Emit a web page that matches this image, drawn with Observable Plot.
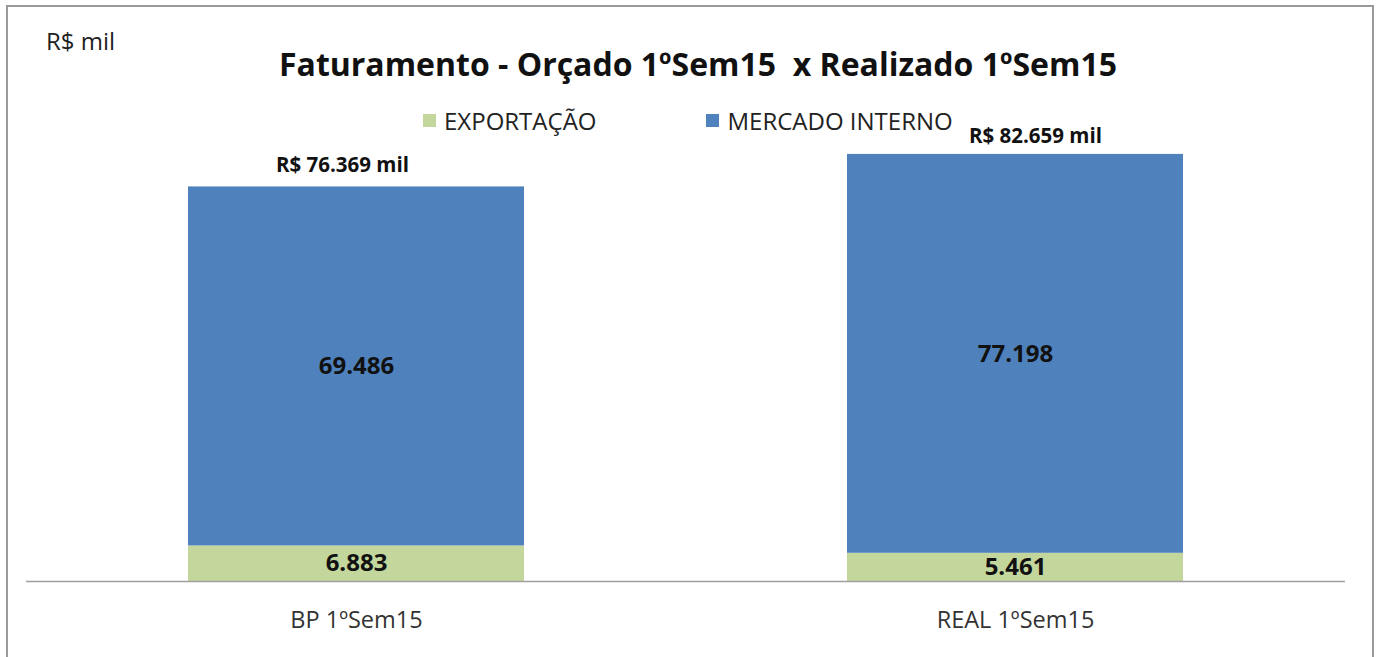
<!DOCTYPE html>
<html>
<head>
<meta charset="utf-8">
<script src="https://cdn.jsdelivr.net/npm/d3@7"></script>
<script src="https://cdn.jsdelivr.net/npm/@observablehq/plot@0.6"></script>
<style>
  html, body { margin: 0; padding: 0; background: #fff; }
  body { width: 1380px; height: 657px; overflow: hidden; position: relative; font-family: "Open Sans", sans-serif; }
  #frame { position: absolute; left: 6px; top: 5px; width: 1368px; height: 700px; border: 2px solid #9a9a9a; border-bottom: none; box-sizing: border-box; }
  #chart { position: absolute; left: 0; top: 0; }
  #unit { position: absolute; left: 46px; top: 24px; font-size: 24px; color: #222; }
  #title { position: absolute; left: 0; width: 1396px; top: 42px; text-align: center; font-size: 32px; font-weight: bold; color: #111; white-space: pre; }
  #legend { position: absolute; top: 104px; left: 423px; font-size: 24px; color: #222; display: flex; align-items: center; }
  #legend .item { display: flex; align-items: center; }
  #legend .sw { width: 13px; height: 13px; display: inline-block; margin-right: 8px; }
</style>
</head>
<body>
<div id="frame"></div>
<div id="chart"></div>
<div id="unit">R$ mil</div>
<div id="title">Faturamento - Orçado 1ºSem15  x Realizado 1ºSem15</div>
<div id="legend"></div>
<script>
const categories = ["BP 1ºSem15", "REAL 1ºSem15"];
const seriesNames = ["EXPORTAÇÃO", "MERCADO INTERNO"];
const exportacao = [6883, 5461];
const mercadoInterno = [69486, 77198];
const seriesColors = ["#C3D69B", "#4F81BD"];

const br = d3.formatLocale({decimal: ",", thousands: ".", grouping: [3], currency: ["R$", ""]});
const fmt = br.format(",d");

const rows = [];
categories.forEach((c, i) => {
  rows.push({cat: c, series: seriesNames[0], value: exportacao[i]});
  rows.push({cat: c, series: seriesNames[1], value: mercadoInterno[i]});
});
const totals = categories.map((c, i) => ({cat: c, total: exportacao[i] + mercadoInterno[i]}));
const totalText = d => `R$ ${fmt(d.total)} mil`;

const chart = Plot.plot({
  width: 1380,
  height: 657,
  marginLeft: 26,
  marginRight: 35,
  marginTop: 116,
  marginBottom: 76,
  style: {fontFamily: "'Open Sans', sans-serif", background: "transparent", overflow: "visible"},
  x: {domain: categories, paddingInner: 0.49, paddingOuter: 0.245, label: null},
  y: {domain: [0, 90000], axis: null},
  color: {domain: seriesNames, range: seriesColors},
  marks: [
    Plot.barY(rows, Plot.stackY({x: "cat", y: "value", fill: "series", z: "series", order: seriesNames})),
    Plot.text(rows, Plot.stackY({x: "cat", y: "value", z: "series", order: seriesNames, text: d => fmt(d.value), fontSize: 24, fontWeight: "bold", fill: "#111"})),
    Plot.text(totals, {filter: (d, i) => i === 0, x: "cat", y: "total", text: totalText, dx: -14, dy: -21, fontSize: 20.5, fontWeight: "bold", fill: "#111"}),
    Plot.text(totals, {filter: (d, i) => i === 1, x: "cat", y: "total", text: totalText, dx: 20, dy: -18, fontSize: 20.5, fontWeight: "bold", fill: "#111"}),
    Plot.ruleY([0], {stroke: "#a0a0a0", strokeWidth: 1.5}),
    Plot.axisX({tickSize: 0, tickPadding: 30, fontSize: 23.5, color: "#333", label: null})
  ]
});
document.getElementById("chart").appendChild(chart);

const legend = document.getElementById("legend");
seriesNames.forEach((s, i) => {
  const item = document.createElement("div");
  item.className = "item";
  if (i > 0) item.style.marginLeft = "110px";
  const sw = document.createElement("span");
  sw.className = "sw";
  sw.style.background = seriesColors[i];
  item.appendChild(sw);
  const t = document.createElement("span");
  t.textContent = s;
  item.appendChild(t);
  legend.appendChild(item);
});
</script>
</body>
</html>
